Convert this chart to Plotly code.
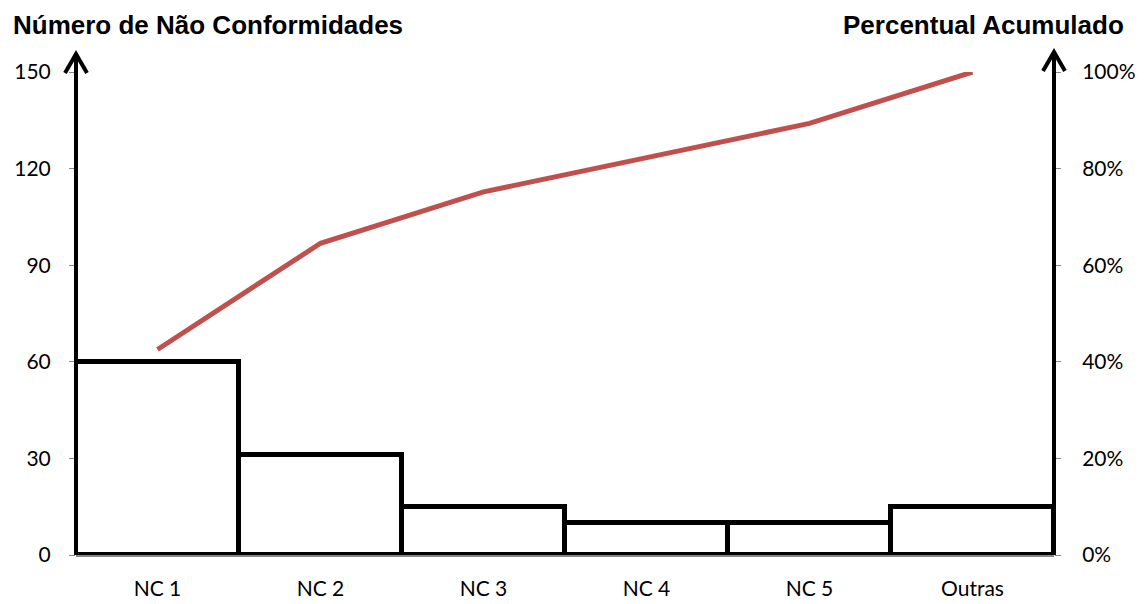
import plotly.graph_objects as go

categories = ["NC 1", "NC 2", "NC 3", "NC 4", "NC 5", "Outras"]
counts = [60, 31, 15, 10, 10, 15]
total = sum(counts)
cumulative = []
acc = 0
for c in counts:
    acc += c
    cumulative.append(acc / total)

left_ticks = [0, 30, 60, 90, 120, 150]
right_ticks = [0, 0.2, 0.4, 0.6, 0.8, 1.0]
right_labels = ["0%", "20%", "40%", "60%", "80%", "100%"]

W, H = 1148, 604
ml, mr, mt, mb = 76, 94, 72, 49
pw, ph = W - ml - mr, H - mt - mb

fig = go.Figure()
fig.add_trace(go.Bar(
    x=categories, y=counts,
    marker=dict(color="white", line=dict(color="black", width=5)),
    yaxis="y", showlegend=False,
))
fig.add_trace(go.Scatter(
    x=categories, y=cumulative, mode="lines",
    line=dict(color="#C0504D", width=5),
    yaxis="y2", showlegend=False,
))

tickfont = dict(family="Lato, Open Sans, sans-serif", size=21, color="black")

def px_to_paper(dx, dy):
    return dx / pw, dy / ph

shapes = []
for xp, tip_px in [(0, 54), (1, 52)]:
    tip = (H - mb - tip_px) / ph
    ax, ay = px_to_paper(11, 19)
    shapes.append(dict(type="line", xref="paper", yref="paper", x0=xp, x1=xp, y0=0, y1=tip,
                       line=dict(color="black", width=4)))
    shapes.append(dict(type="path", xref="paper", yref="paper",
                       path=f"M {xp-ax} {tip-ay} L {xp} {tip} L {xp+ax} {tip-ay}",
                       line=dict(color="black", width=4)))

title_font = dict(family="Liberation Sans, Arial", size=26, color="black")

fig.update_layout(
    width=W, height=H,
    margin=dict(l=ml, r=mr, t=mt, b=mb),
    paper_bgcolor="white", plot_bgcolor="white",
    bargap=0,
    xaxis=dict(showgrid=False, showline=True, linecolor="#888888", linewidth=2,
               tickfont=tickfont, ticks="", zeroline=False, ticklabelstandoff=14,
               automargin=False),
    yaxis=dict(range=[0, 150], tickvals=left_ticks, showgrid=False, zeroline=False,
               showline=False, ticks="outside", ticklen=6, tickcolor="#888888",
               tickfont=tickfont, ticklabelstandoff=14, automargin=False),
    yaxis2=dict(range=[0, 1], tickvals=right_ticks, ticktext=right_labels, overlaying="y",
                side="right", showgrid=False, zeroline=False, showline=False,
                ticks="outside", ticklen=6, tickcolor="#888888", tickfont=tickfont,
                ticklabelstandoff=17, automargin=False),
    shapes=shapes,
    annotations=[
        dict(text="<b>Número de Não Conformidades</b>", xref="paper", yref="paper",
             x=-ml / pw + 11 / pw, y=(H - mb - 25) / ph, xanchor="left", yanchor="middle",
             showarrow=False, font=title_font),
        dict(text="<b>Percentual Acumulado</b>", xref="paper", yref="paper",
             x=1 + (1126 - (W - mr)) / pw, y=(H - mb - 25) / ph, xanchor="right", yanchor="middle",
             showarrow=False, font=title_font),
    ],
)

fig.write_html("out.html", config={"displayModeBar": False},
               post_script="document.body.style.margin='0';")
